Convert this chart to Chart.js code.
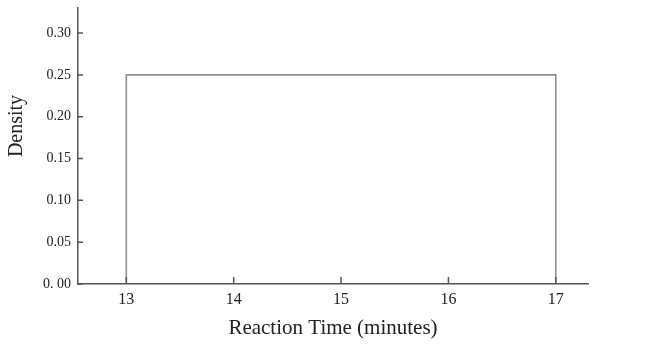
<!DOCTYPE html>
<html>
<head>
<meta charset="utf-8">
<script src="https://cdn.jsdelivr.net/npm/chart.js@4.4.1/dist/chart.umd.min.js"></script>
<style>
html,body{margin:0;padding:0;background:#fff;}
#wrap{width:650px;height:351px;position:relative;}
</style>
</head>
<body>
<div id="wrap"><canvas id="c" width="650" height="351"></canvas></div>
<script>
// Uniform density on [13, 17]
const xPoints = [13, 13, 17, 17];
const densityValues = [0, 0.25, 0.25, 0];
const xTickValues = [13, 14, 15, 16, 17];
const yTickValues = [0, 0.05, 0.10, 0.15, 0.20, 0.25, 0.30];
const yTickLabels = ['0. 00', '0.05', '0.10', '0.15', '0.20', '0.25', '0.30'];
const xTitle = 'Reaction Time (minutes)';
const yTitle = 'Density';

const SERIF = '"Liberation Serif", "DejaVu Serif", serif';
const AXIS = '#555555';

const inwardTicks = {
  id: 'inwardTicks',
  afterDatasetsDraw(chart) {
    const ctx = chart.ctx, xs = chart.scales.x, ys = chart.scales.y;
    ctx.save();
    ctx.strokeStyle = AXIS;
    ctx.lineWidth = 1.5;
    ctx.beginPath();
    xTickValues.forEach(v => {
      const px = xs.getPixelForValue(v);
      ctx.moveTo(px, ys.bottom); ctx.lineTo(px, ys.bottom - 7);
    });
    yTickValues.forEach(v => {
      const py = ys.getPixelForValue(v);
      ctx.moveTo(xs.left, py); ctx.lineTo(xs.left + 5, py);
    });
    ctx.stroke();
    // axis titles
    ctx.fillStyle = '#222';
    ctx.font = '21px ' + SERIF;
    ctx.textAlign = 'center';
    ctx.textBaseline = 'middle';
    ctx.fillText(xTitle, 333, 328);
    ctx.translate(17, 126);
    ctx.rotate(-Math.PI / 2);
    ctx.font = '20px ' + SERIF;
    ctx.fillText(yTitle, 0, 0);
    ctx.restore();
  }
};

new Chart(document.getElementById('c'), {
  type: 'scatter',
  data: {
    datasets: [{
      data: xPoints.map((x, i) => ({x: x, y: densityValues[i]})),
      showLine: true,
      borderColor: '#8a948b',
      borderWidth: 1.6,
      pointRadius: 0,
      fill: false,
      tension: 0
    }]
  },
  options: {
    responsive: false,
    animation: false,
    layout: {padding: {top: 8, right: 62, left: 0, bottom: 0}},
    plugins: {legend: {display: false}, tooltip: {enabled: false}},
    scales: {
      x: {
        type: 'linear',
        min: 12.55,
        max: 17.3,
        afterBuildTicks: s => { s.ticks = xTickValues.map(v => ({value: v})); },
        afterFit: s => { s.height = 67; s.paddingLeft = 0; s.paddingRight = 0; },
        grid: {display: false, drawTicks: false},
        border: {display: true, color: AXIS, width: 1.5},
        ticks: {
          padding: 6,
          color: '#222',
          font: {family: SERIF, size: 16},
          callback: v => String(v)
        }
      },
      y: {
        type: 'linear',
        min: 0,
        max: 0.33,
        afterBuildTicks: s => { s.ticks = yTickValues.map(v => ({value: v})); },
        afterFit: s => { s.width = 78; s.paddingTop = 0; s.paddingBottom = 0; },
        grid: {display: false, drawTicks: false},
        border: {display: true, color: AXIS, width: 1.5},
        ticks: {
          padding: 7,
          color: '#222',
          font: {family: SERIF, size: 14},
          callback: (v) => {
            const i = yTickValues.findIndex(t => Math.abs(t - v) < 1e-9);
            return i >= 0 ? yTickLabels[i] : '';
          }
        }
      }
    }
  },
  plugins: [inwardTicks]
});
</script>
</body>
</html>
